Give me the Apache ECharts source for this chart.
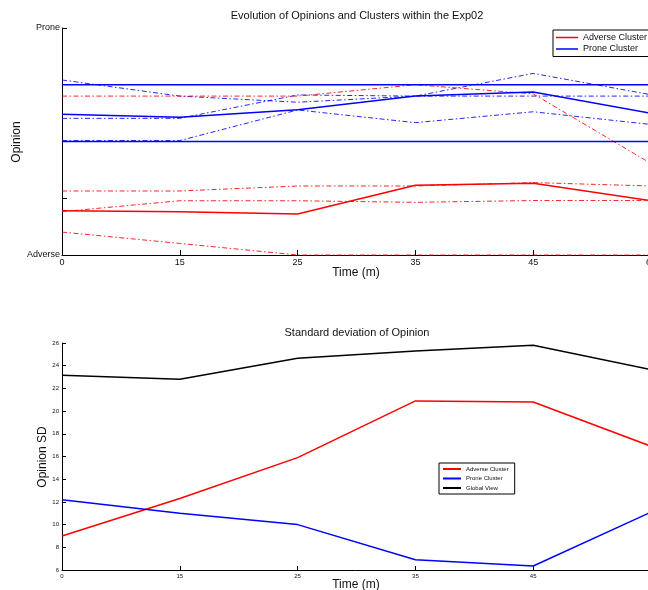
<!DOCTYPE html>
<html>
<head>
<meta charset="utf-8">
<script src="https://cdn.jsdelivr.net/npm/echarts@6/dist/echarts.min.js"></script>
<style>html,body{margin:0;padding:0;background:#fff;}#c{width:648px;height:590px;}</style>
</head>
<body>
<div id="c"></div>
<script>
// ---- data ----
const categories = ['0', '15', '25', '35', '45', '60'];
// top panel (opinion scale 0 = Adverse, 100 = Prone)
const adverseMean = [19.5, 19.1, 18.1, 30.7, 31.6, 23.9];
const proneMean = [62.0, 60.7, 64.0, 70.0, 71.8, 62.4];
const proneUpper = [75, 75, 75, 75, 75, 75];
const proneLower = [50, 50, 50, 50, 50, 50];
const proneOp1 = [77.1, 70.0, 67.3, 70.0, 80.0, 70.6];
const proneOp2 = [60.2, 60.2, 70.5, 70.0, 70.0, 70.0];
const proneOp3 = [50.4, 50.4, 63.9, 58.3, 63.1, 57.5];
const adverseOp1 = [70.0, 70.0, 70.0, 75.0, 71.0, 40.3];
const adverseOp2 = [28.2, 28.2, 30.4, 30.4, 31.9, 30.4];
const adverseOp3 = [19.1, 23.9, 23.9, 23.2, 24.0, 24.0];
const adverseOp4 = [10.1, 5.1, 0, 0, 0, 0];
const topYLabels = {0: 'Adverse', 100: 'Prone'};
// bottom panel (standard deviation)
const sdAdverse = [9.0, 12.3, 15.9, 20.9, 20.8, 16.9];
const sdProne = [12.2, 11.0, 10.0, 6.9, 6.35, 11.1];
const sdGlobal = [23.15, 22.8, 24.65, 25.3, 25.8, 23.65];

const FONT = 'Liberation Sans, Arial, Helvetica, sans-serif';
const RED = '#ff0000', BLUE = '#0000ff', BLACK = '#000000';
const DASHDOT = [5, 2.5, 1.5, 2.5];

function line(name, data, color, width, dashed, axis, z) {
  return {
    name: name, type: 'line', data: data,
    xAxisIndex: axis, yAxisIndex: axis,
    symbol: 'none', showSymbol: false, clip: false, z: z || 2,
    color: color,
    lineStyle: {color: color, width: width, type: dashed ? DASHDOT : 'solid', opacity: dashed ? 0.85 : 1},
    itemStyle: {color: color},
    emphasis: {disabled: true}
  };
}

const chart = echarts.init(document.getElementById('c'), null, {renderer: 'canvas'});
const axisLineStyle = {color: BLACK, width: 1};

chart.setOption({
  animation: false,
  backgroundColor: '#ffffff',
  grid: [
    {left: 62, top: 28, width: 589, height: 227, containLabel: false, outerBoundsMode: 'none'},
    {left: 62, top: 343, width: 589, height: 227, containLabel: false, outerBoundsMode: 'none'}
  ],
  xAxis: [0, 1].map(i => ({
    type: 'category', gridIndex: i, data: categories, boundaryGap: false,
    axisLine: {show: true, onZero: false, lineStyle: axisLineStyle},
    axisTick: {show: true, inside: true, length: i === 0 ? 5 : 4, lineStyle: axisLineStyle, alignWithLabel: true},
    axisLabel: {show: true, color: '#111', fontFamily: FONT, fontSize: i === 0 ? 9 : 6, margin: 3, interval: 0, hideOverlap: false},
    splitLine: {show: false}
  })),
  yAxis: [
    {
      type: 'value', gridIndex: 0, min: 0, max: 100, interval: 25,
      axisLine: {show: true, onZero: false, lineStyle: axisLineStyle},
      axisTick: {show: true, inside: true, length: 5, lineStyle: axisLineStyle, customValues: [0, 25, 100]},
      axisLabel: {show: true, color: '#111', fontFamily: FONT, fontSize: 9, margin: 2,
        customValues: [0, 100], formatter: v => topYLabels[v] || ''},
      splitLine: {show: false}
    },
    {
      type: 'value', gridIndex: 1, min: 6, max: 26, interval: 2,
      axisLine: {show: true, onZero: false, lineStyle: axisLineStyle},
      axisTick: {show: true, inside: true, length: 4, lineStyle: axisLineStyle},
      axisLabel: {show: true, color: '#111', fontFamily: FONT, fontSize: 6, margin: 3},
      splitLine: {show: false}
    }
  ],
  legend: [
    {
      data: ['Adverse Cluster', 'Prone Cluster'],
      orient: 'vertical', left: 553, top: 30,
      backgroundColor: '#fff', borderColor: BLACK, borderWidth: 1,
      padding: [3, 3, 3, 3], itemGap: 2.5, itemWidth: 22, itemHeight: 1.5,
      icon: 'rect', selectedMode: false,
      textStyle: {fontFamily: FONT, fontSize: 9, color: '#111', lineHeight: 9}
    },
    {
      data: ['sd:Adverse Cluster', 'sd:Prone Cluster', 'sd:Global View'],
      formatter: n => n.replace('sd:', ''),
      orient: 'vertical', left: 439, top: 463,
      backgroundColor: '#fff', borderColor: BLACK, borderWidth: 1,
      padding: [3, 6, 3, 4], itemGap: 3.5, itemWidth: 18, itemHeight: 2,
      icon: 'rect', selectedMode: false,
      textStyle: {fontFamily: FONT, fontSize: 6, color: '#111', lineHeight: 6}
    }
  ],
  graphic: [
    {type: 'text', x: 357, y: 16, style: {text: 'Evolution of Opinions and Clusters within the Exp02', font: '11px ' + FONT, fill: '#111', textAlign: 'center', textVerticalAlign: 'middle'}},
    {type: 'text', x: 356, y: 273, style: {text: 'Time (m)', font: '12px ' + FONT, fill: '#111', textAlign: 'center', textVerticalAlign: 'middle'}},
    {type: 'text', x: 17, y: 142, rotation: Math.PI / 2, style: {text: 'Opinion', font: '12px ' + FONT, fill: '#111', textAlign: 'center', textVerticalAlign: 'middle'}},
    {type: 'text', x: 357, y: 333, style: {text: 'Standard deviation of Opinion', font: '11px ' + FONT, fill: '#111', textAlign: 'center', textVerticalAlign: 'middle'}},
    {type: 'text', x: 356, y: 585, style: {text: 'Time (m)', font: '12px ' + FONT, fill: '#111', textAlign: 'center', textVerticalAlign: 'middle'}},
    {type: 'text', x: 43, y: 457, rotation: Math.PI / 2, style: {text: 'Opinion SD', font: '12px ' + FONT, fill: '#111', textAlign: 'center', textVerticalAlign: 'middle'}}
  ],
  series: [
    line('p1', proneOp1, BLUE, 1, true, 0),
    line('p2', proneOp2, BLUE, 1, true, 0),
    line('p3', proneOp3, BLUE, 1, true, 0),
    line('a1', adverseOp1, RED, 1, true, 0),
    line('a2', adverseOp2, RED, 1, true, 0),
    line('a3', adverseOp3, RED, 1, true, 0),
    line('a4', adverseOp4, RED, 1, true, 0),
    line('pu', proneUpper, BLUE, 1.4, false, 0, 3),
    line('pl', proneLower, BLUE, 1.4, false, 0, 3),
    line('Adverse Cluster', adverseMean, RED, 1.5, false, 0, 3),
    line('Prone Cluster', proneMean, BLUE, 1.5, false, 0, 3),
    line('sd:Adverse Cluster', sdAdverse, RED, 1.5, false, 1),
    line('sd:Prone Cluster', sdProne, BLUE, 1.5, false, 1),
    line('sd:Global View', sdGlobal, BLACK, 1.5, false, 1)
  ]
});
</script>
</body>
</html>
